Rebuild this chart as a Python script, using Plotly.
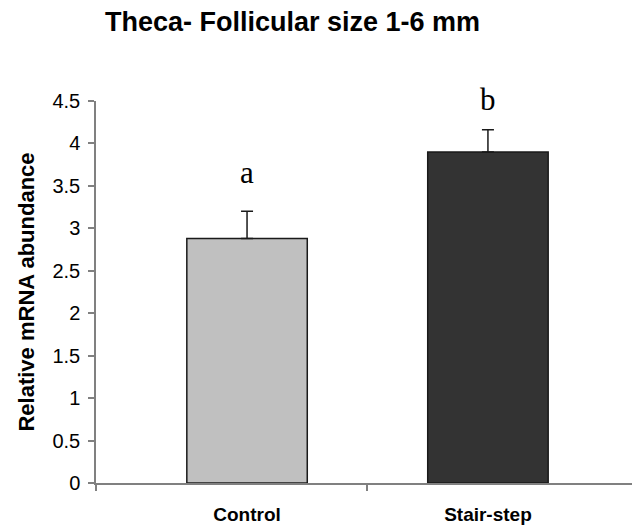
import plotly.graph_objects as go

categories = ["Control", "Stair-step"]
values = [2.88, 3.90]
errors = [0.32, 0.26]
letters = ["a", "b"]
letter_y = [3.66, 4.52]
bar_colors = ["#c0c0c0", "#333333"]
y_ticks = [0, 0.5, 1, 1.5, 2, 2.5, 3, 3.5, 4, 4.5]
y_tick_text = ["0", "0.5", "1", "1.5", "2", "2.5", "3", "3.5", "4", "4.5"]

W, H = 632, 527
L, R, T, B = 96, 0, 101, 44
y_max = 4.5
px_per_unit = (H - T - B) / y_max

fig = go.Figure()
fig.add_trace(go.Bar(
    x=[0, 1], y=values, width=0.5,
    marker=dict(color=bar_colors, line=dict(color="#1a1a1a", width=1.5)),
    error_y=dict(type="data", array=errors, symmetric=False, arrayminus=[0, 0],
                 color="#1a1a1a", thickness=1.5, width=6),
    showlegend=False, cliponaxis=False,
))

xr = [-0.627, 1.598]
for i, t in enumerate(letters):
    yy = min(letter_y[i], y_max)
    fig.add_annotation(x=i, y=yy, yshift=(letter_y[i] - yy) * px_per_unit,
                       text=t, showarrow=False,
                       font=dict(family="Liberation Serif", size=31, color="black"),
                       xref="x", yref="y")

fig.update_layout(
    width=W, height=H, margin=dict(l=L, r=R, t=T, b=B),
    paper_bgcolor="white", plot_bgcolor="white",
    title=dict(text="<b>Theca- Follicular size 1-6 mm</b>", x=0.166, xanchor="left",
               y=1 - 22 / H, yanchor="middle",
               font=dict(family="Liberation Sans", size=27, color="black")),
    xaxis=dict(range=xr, tickvals=[0, 1], ticktext=["<b>" + c + "</b>" for c in categories],
               ticks="", showline=True, linecolor="#808080", linewidth=1.5,
               showgrid=False, zeroline=False, fixedrange=True,
               tickfont=dict(family="Liberation Sans", size=19, color="black"),
               ticklabelstandoff=13),
    xaxis2=dict(range=xr, overlaying="x", side="bottom", tickvals=[-0.627, 0.5],
                ticks="outside", ticklen=7, tickwidth=1.5, tickcolor="#808080",
                showticklabels=False, showgrid=False, zeroline=False, showline=False),
    yaxis=dict(range=[0, y_max], tickvals=y_ticks, ticktext=y_tick_text,
               ticks="outside", ticklen=6, tickwidth=1.5, tickcolor="#808080",
               showline=True, linecolor="#808080", linewidth=1.5,
               showgrid=False, zeroline=False,
               tickfont=dict(family="Liberation Sans", size=20, color="black"),
               ticklabelstandoff=4,
               title=dict(text="<b>Relative mRNA abundance</b>", standoff=12,
                          font=dict(family="Liberation Sans", size=22, color="black"))),
)
fig.add_trace(go.Scatter(x=[None], y=[None], xaxis="x2", showlegend=False))

fig.write_html("out.html")
